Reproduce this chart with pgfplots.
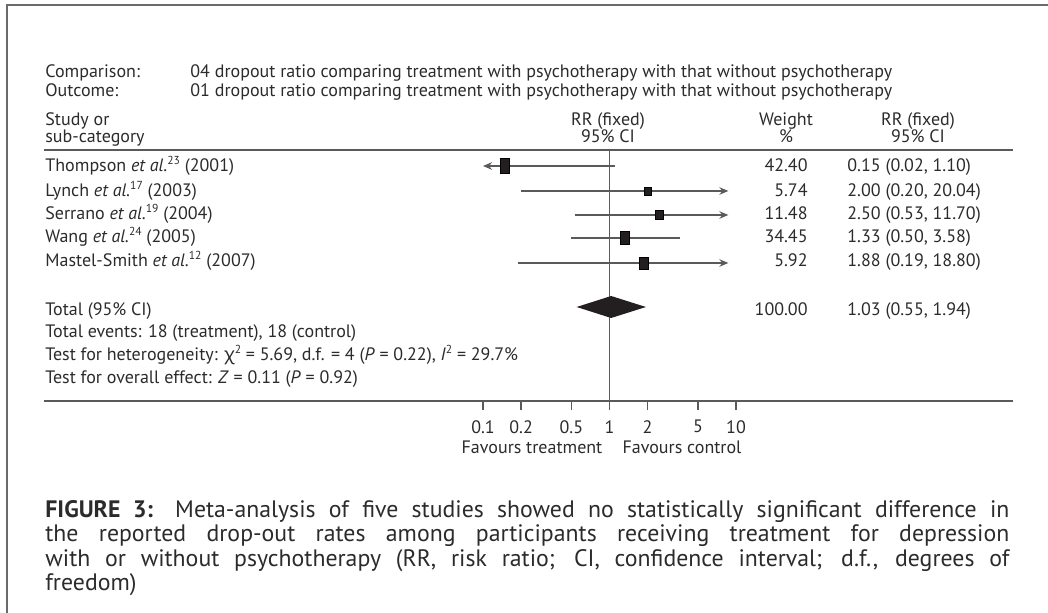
\documentclass[border=0pt]{standalone}
\usepackage{pgfplots}
\pgfplotsset{compat=1.18}
\usepackage{fontspec}
\setmainfont{PT Sans}
\newfontfamily\greekf{Noto Sans}
\usetikzlibrary{arrows.meta}
\definecolor{txt}{HTML}{2B2B2B}
\definecolor{ln}{HTML}{5A5A5A}
\definecolor{mk}{HTML}{231F20}
\definecolor{frm}{HTML}{6A6A6A}
\newcommand\tf{\fontsize{9}{10}\selectfont}
\newcommand\supx[1]{\raisebox{0.42em}{\fontsize{5.8}{6}\selectfont #1}}
\begin{document}
\begin{tikzpicture}
\begin{scope}[x=0.5pt,y=-0.5pt]
\path[use as bounding box] (0,0) rectangle (1048,613);
\draw[frm, line width=1pt] (7,613) -- (7,5) -- (1048,5);
\begin{scope}[every node/.style={inner sep=0pt, text=txt, font=\tf}]
\node[anchor=base west] at (45,78) {Comparison:};
\node[anchor=base west] at (190,78) {04 dropout ratio comparing treatment with psychotherapy with that without psychotherapy};
\node[anchor=base west] at (45,97) {Outcome:};
\node[anchor=base west] at (190,97) {01 dropout ratio comparing treatment with psychotherapy with that without psychotherapy};
\node[anchor=base west] at (45,126) {Study or};
\node[anchor=base west] at (45,143) {sub-category};
\node[anchor=base] at (608,126) {RR (fixed)};
\node[anchor=base] at (608,143) {95\% CI};
\node[anchor=base] at (786,126) {Weight};
\node[anchor=base] at (786,143) {\%};
\node[anchor=base] at (918,126) {RR (fixed)};
\node[anchor=base] at (918,143) {95\% CI};
% study names
\node[anchor=base west] at (45,172) {Thompson \textit{et al.}\supx{23} (2001)};
\node[anchor=base west] at (45,197) {Lynch \textit{et al.}\supx{17} (2003)};
\node[anchor=base west] at (45,220) {Serrano \textit{et al.}\supx{19} (2004)};
\node[anchor=base west] at (45,243) {Wang \textit{et al.}\supx{24} (2005)};
\node[anchor=base west] at (45,267) {Mastel-Smith \textit{et al.}\supx{12} (2007)};
\node[anchor=base west] at (45,316) {Total (95\% CI)};
\node[anchor=base west] at (45,338) {Total events: 18 (treatment), 18 (control)};
\node[anchor=base west] at (45,361) {Test for heterogeneity: {\greekf χ}\supx{2} = 5.69, d.f. = 4 (\textit{P} = 0.22), \textit{I}\supx{2} = 29.7\%};
\node[anchor=base west] at (45,384) {Test for overall effect: \textit{Z} = 0.11 (\textit{P} = 0.92)};
% weights
\node[anchor=base east] at (808,172) {42.40};
\node[anchor=base east] at (808,197) {5.74};
\node[anchor=base east] at (808,220) {11.48};
\node[anchor=base east] at (808,243) {34.45};
\node[anchor=base east] at (808,267) {5.92};
\node[anchor=base east] at (808,316) {100.00};
% CIs
\node[anchor=base west] at (847,172) {0.15 (0.02, 1.10)};
\node[anchor=base west] at (847,197) {2.00 (0.20, 20.04)};
\node[anchor=base west] at (847,220) {2.50 (0.53, 11.70)};
\node[anchor=base west] at (847,243) {1.33 (0.50, 3.58)};
\node[anchor=base west] at (847,267) {1.88 (0.19, 18.80)};
\node[anchor=base west] at (847,316) {1.03 (0.55, 1.94)};
\node[anchor=base] at (532,454) {Favours treatment};
\node[anchor=base] at (682,454) {Favours control};
\node[anchor=north west, text width=482pt, align=justify, font=\fontsize{11.9}{12.25}\selectfont] at (45,500) {\textbf{FIGURE 3:} Meta-analysis of five studies showed no statistically significant difference in\linebreak the reported drop-out rates among participants receiving treatment for depression\linebreak with or without psychotherapy (RR, risk ratio; CI, confidence interval; d.f., degrees of\linebreak freedom)};
\end{scope}
\draw[ln, line width=0.6pt] (44,150) -- (1013,150);
\draw[ln, line width=0.6pt] (44,401) -- (1013,401);
\end{scope}
\begin{axis}[
  at={(241.5pt,-200.5pt)}, anchor=south west,
  scale only axis, width=126.5pt, height=125.5pt,
  xmode=log, xmin=0.1, xmax=10, ymin=-401, ymax=-150,
  clip=false,
  axis x line*=bottom, x axis line style={draw=none},
  hide y axis,
  xtick={0.1,0.2,0.5,1,2,5,10},
  xticklabels={0.1,0.2,0.5,1,2,5,10},
  xminorticks=false,
  xtick align=outside, major tick length=4.5pt,
  tick style={ln, line width=0.6pt},
  x tick label style={font=\tf, text=txt, inner sep=0pt, yshift=-5pt},
  /pgf/number format/assume math mode=true,
]
\addplot[ln, line width=0.6pt] coordinates {(1,-150) (1,-401)};
\addplot[ln, line width=0.6pt, {Stealth[length=4.5pt,width=3.8pt]}-] coordinates {(0.1,-166) (1.10,-166)};
\addplot[ln, line width=0.6pt, -{Stealth[length=4.5pt,width=3.8pt]}] coordinates {(0.20,-191) (8.7,-191)};
\addplot[ln, line width=0.6pt, -{Stealth[length=4.5pt,width=3.8pt]}] coordinates {(0.53,-215) (8.7,-215)};
\addplot[ln, line width=0.6pt] coordinates {(0.50,-238) (3.58,-238)};
\addplot[ln, line width=0.6pt, -{Stealth[length=4.5pt,width=3.8pt]}] coordinates {(0.19,-263) (8.7,-263)};
\addplot[only marks, mark=square*, mark size=2.25pt, mark options={fill=mk, draw=none, yscale=1.667}] coordinates {(0.15,-166)};
\addplot[only marks, mark=square*, mark size=1.75pt, mark options={fill=mk, draw=none, yscale=1.14}] coordinates {(2.00,-191)};
\addplot[only marks, mark=square*, mark size=2pt, mark options={fill=mk, draw=none, yscale=1.125}] coordinates {(2.50,-215)};
\addplot[only marks, mark=square*, mark size=2.25pt, mark options={fill=mk, draw=none, yscale=1.44}] coordinates {(1.33,-238)};
\addplot[only marks, mark=square*, mark size=2.25pt, mark options={fill=mk, draw=none, yscale=1.33}] coordinates {(1.88,-263)};
\addplot[fill=mk, draw=none] coordinates {(0.55,-307) (1.03,-296) (1.94,-307) (1.03,-318)};
\end{axis}
\end{tikzpicture}
\end{document}
